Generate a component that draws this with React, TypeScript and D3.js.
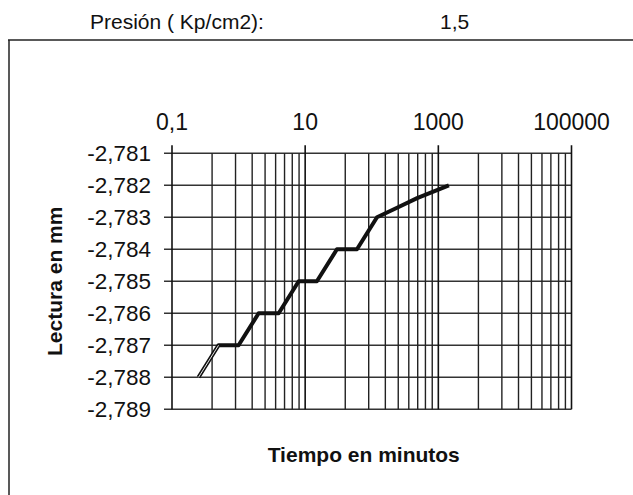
import React from "react";
import * as d3 from "d3";

const times = [0.25, 0.5, 1, 2, 4, 8, 15, 30, 60, 120, 240, 480, 1440];
const readings = [-2.788, -2.787, -2.787, -2.786, -2.786, -2.785, -2.785, -2.784, -2.784, -2.783, -2.7827, -2.7824, -2.782];
const xMajor = [0.1, 10, 1000, 100000];
const xMajorLabels = ["0,1", "10", "1000", "100000"];
const yTicks = [-2.781, -2.782, -2.783, -2.784, -2.785, -2.786, -2.787, -2.788, -2.789];
const titleLabel = "Presión ( Kp/cm2):";
const titleValue = "1,5";
const xTitle = "Tiempo en minutos";
const yTitle = "Lectura en mm";

const W = 633, H = 495;
const L = 172, R = 571.5, T = 153.3, B = 409.3;

export default function App() {
  const x = d3.scaleLog().domain([0.1, 100000]).range([L, R]);
  const y = d3.scaleLinear().domain([-2.789, -2.781]).range([B, T]);
  const minor: number[] = [];
  for (let i = 0; i < xMajor.length - 1; i++) {
    const a = xMajor[i];
    for (let k = 2; k <= 9; k++) minor.push(a * k * k);
  }
  const line = d3.line<number>().x((_, i) => x(times[i])).y((d) => y(d));
  const path = line(readings) || "";
  const core = d3.line<number>().defined((_, i) => i <= 1).x((_, i) => x(times[i])).y((d) => y(d))(readings) || "";
  const font = "Liberation Sans, Arial, sans-serif";
  return (
    <svg width={W} height={H} style={{ position: "absolute", left: 0, top: 0, background: "#fff" }}>
      <line x1={8} y1={40} x2={W} y2={40} stroke="#222" strokeWidth={1.5} />
      <line x1={9} y1={40} x2={9} y2={H} stroke="#222" strokeWidth={1.5} />
      <text x={90} y={29} fontFamily={font} fontSize={21} fill="#111">{titleLabel}</text>
      <text x={440} y={29} fontFamily={font} fontSize={21} fill="#111">{titleValue}</text>
      {yTicks.map((t) => (
        <line key={"h" + t} x1={L - 8} x2={R} y1={y(t)} y2={y(t)} stroke="#333" strokeWidth={1.4} />
      ))}
      {minor.map((m) => (
        <line key={"m" + m} x1={x(m)} x2={x(m)} y1={T} y2={B} stroke="#222" strokeWidth={1.4} />
      ))}
      {xMajor.map((m) => (
        <line key={"M" + m} x1={x(m)} x2={x(m)} y1={T - 8} y2={B} stroke="#111" strokeWidth={1.6} />
      ))}
      {xMajor.map((m, i) => (
        <text key={"xl" + m} x={x(m)} y={130} textAnchor="middle" fontFamily={font} fontSize={23} fill="#111">{xMajorLabels[i]}</text>
      ))}
      {yTicks.map((t) => (
        <text key={"yl" + t} x={151} y={y(t) + 8} textAnchor="end" fontFamily={font} fontSize={22.5} fill="#111">{String(t).replace(".", ",")}</text>
      ))}
      <path d={path} fill="none" stroke="#111" strokeWidth={4} strokeLinejoin="round" />
      <path d={core} fill="none" stroke="#fff" strokeWidth={0.9} strokeLinejoin="round" />
      <text x={(L + R) / 2 - 8} y={462} textAnchor="middle" fontFamily={font} fontSize={21} fontWeight="bold" fill="#111">{xTitle}</text>
      <text transform={`translate(62,${(T + B) / 2}) rotate(-90)`} textAnchor="middle" fontFamily={font} fontSize={21} fontWeight="bold" fill="#111">{yTitle}</text>
    </svg>
  );
}
